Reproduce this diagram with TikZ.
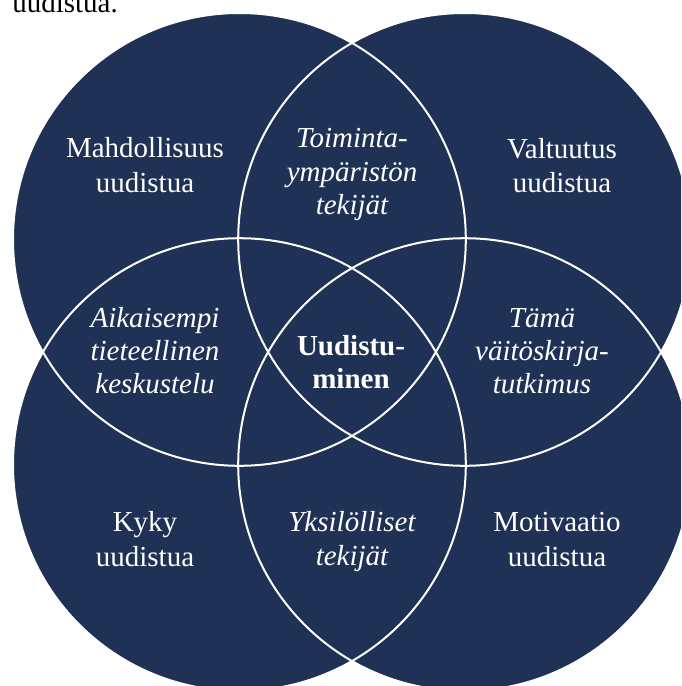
\documentclass[tikz,border=0pt]{standalone}
\usepackage{fontspec}
\setmainfont{Liberation Serif}
\definecolor{venn}{RGB}{31,50,86}
\begin{document}
\begin{tikzpicture}[x=1pt,y=-1pt,
  disc/.style={fill=venn},
  rim/.style={draw=white,line width=2pt},
  lbl/.style={text=white,anchor=base,inner sep=0pt,font=\fontsize{29}{34}\selectfont},
  ilbl/.style={lbl,font=\fontsize{29}{34}\selectfont\itshape},
  blbl/.style={lbl,font=\fontsize{29}{34}\selectfont\bfseries}]
\useasboundingbox (0,0) rectangle (681,686);
\begin{scope}
\clip (0,0) rectangle (681,686);
% trailing text of the preceding paragraph
\node[lbl,text=black,anchor=base east] (prev) at (118,12) {uudistua.};
% the four circles
\coordinate (cTL) at (239.4,239.4);
\coordinate (cTR) at (464.6,239.4);
\coordinate (cBL) at (239.4,464.6);
\coordinate (cBR) at (464.6,464.6);
\foreach \c in {cTL,cTR,cBL,cBR}
  \fill[disc] (\c) circle[radius=226.4];
\foreach \c in {cTL,cTR,cBL,cBR}
  \draw[rim] (\c) circle[radius=226.4];
\end{scope}
% outer regions
\node[lbl] (mah1) at (145,157) {Mahdollisuus};
\node[lbl] (mah2) at (145,192) {uudistua};
\node[lbl] (val1) at (562,158) {Valtuutus};
\node[lbl] (val2) at (562,192) {uudistua};
\node[lbl] (kyk1) at (145,531) {Kyky};
\node[lbl] (kyk2) at (145,566) {uudistua};
\node[lbl] (mot1) at (557,531) {Motivaatio};
\node[lbl] (mot2) at (557,566) {uudistua};
% pairwise overlaps
\node[ilbl] (toi1) at (352,147) {Toiminta-};
\node[ilbl] (toi2) at (352,181) {ympäristön};
\node[ilbl] (toi3) at (352,214) {tekijät};
\node[ilbl] (aik1) at (155,327) {Aikaisempi};
\node[ilbl] (aik2) at (155,360) {tieteellinen};
\node[ilbl] (aik3) at (155,393) {keskustelu};
\node[ilbl] (tam1) at (542,327) {Tämä};
\node[ilbl] (tam2) at (542,360) {väitöskirja-};
\node[ilbl] (tam3) at (542,393) {tutkimus};
\node[ilbl] (yks1) at (352,531) {Yksilölliset};
\node[ilbl] (yks2) at (352,565) {tekijät};
% centre
\node[blbl] (uud1) at (351,355) {Uudistu-};
\node[blbl] (uud2) at (351,388) {minen};
\end{tikzpicture}
\end{document}
